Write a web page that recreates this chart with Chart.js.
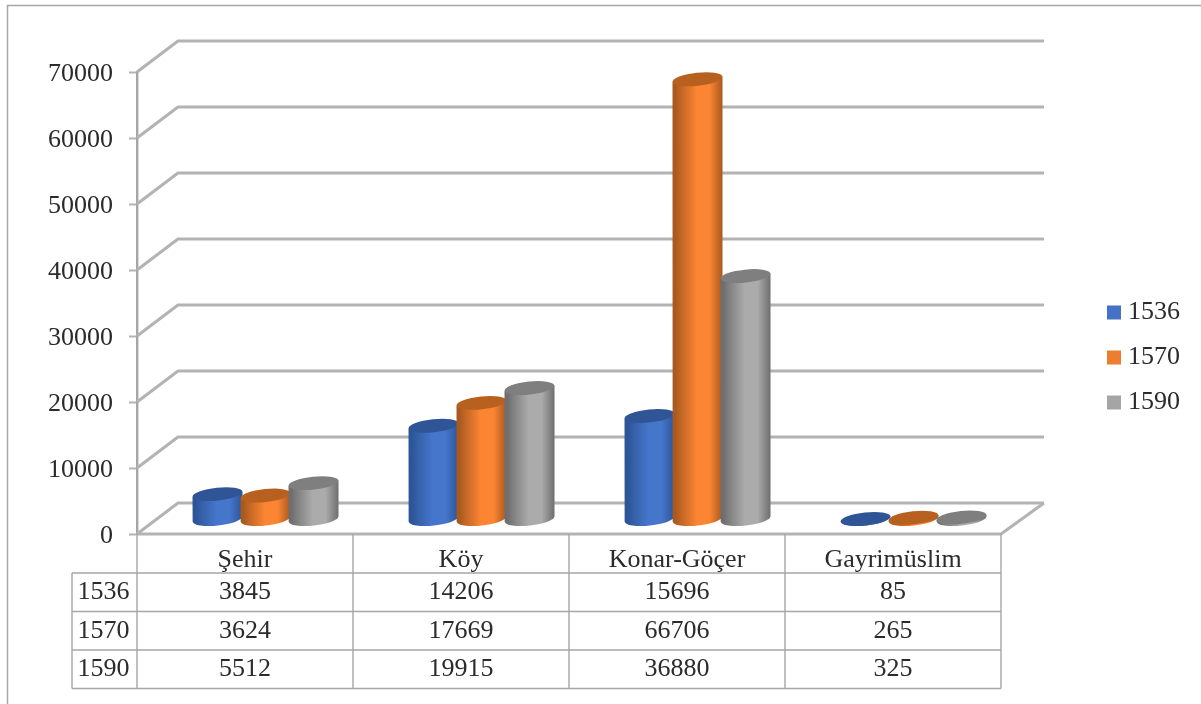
<!DOCTYPE html>
<html lang="tr">
<head>
<meta charset="utf-8">
<title>Nüfus</title>
<script src="https://cdn.jsdelivr.net/npm/chart.js@4/dist/chart.umd.js"></script>
<style>
html,body{margin:0;padding:0;background:#fff;overflow:hidden}
canvas{display:block;filter:blur(.7px)}
</style>
</head>
<body>
<canvas id="c" width="1201" height="704"></canvas>
<script>
const categories = ["Şehir", "Köy", "Konar-Göçer", "Gayrimüslim"];
const seriesNames = ["1536", "1570", "1590"];
const values1536 = [3845, 14206, 15696, 85];
const values1570 = [3624, 17669, 66706, 265];
const values1590 = [5512, 19915, 36880, 325];
const seriesValues = [values1536, values1570, values1590];
const seriesColors = ["#4472c4", "#ed7d31", "#a5a5a5"];
const bodyEdge = ["#2c5596", "#a9591f", "#6e6e6e"];
const bodyLight = ["#4676cc", "#fb8533", "#ababab"];
const topColors = ["#2f5597", "#b8601f", "#7f7f7f"];

const FONT = '"Liberation Serif"';
const TEXT = "#2b2b2b";
const LINE = "#b3b3b3";
const DEPTH_X = 41, DEPTH_Y = 31;     // wall depth
const BAR_DX = 20.5, BAR_DY = 14.5;   // bars stand mid-way on the floor
const ROW_LEFT = 72, ROW_H = 38.5, HEAD_H = 39;
const TILT = -6 * Math.PI / 180;

function ellipse(ctx, x, y, rx, ry, color) {
  ctx.fillStyle = color;
  ctx.beginPath();
  ctx.ellipse(x, y, rx, ry, TILT, 0, Math.PI * 2);
  ctx.fill();
}

const scene = {
  id: "scene",
  beforeDraw(chart) {
    const ctx = chart.ctx;
    ctx.save();
    ctx.fillStyle = "#fff";
    ctx.fillRect(0, 0, chart.width, chart.height);
    ctx.strokeStyle = "#a6a6a6";
    ctx.lineWidth = 1.5;
    ctx.beginPath();
    ctx.moveTo(7.5, chart.height);
    ctx.lineTo(7.5, 5.5);
    ctx.lineTo(chart.width, 5.5);
    ctx.stroke();
    ctx.restore();
    // value labels sit slightly below their tick in the reference
    const ys = chart.scales.y;
    if (!ys.$shifted) {
      ys.getLabelItems(chart.chartArea).forEach(it => { it.options.translation[1] += 2.5; });
      ys.$shifted = true;
    }
  },
  afterLayout(chart) {
    const l = chart.legend;
    const dx = 1094 - l.left;
    l.left += dx; l.right += dx;
    l.legendHitBoxes.forEach(b => { b.left += dx; });
    const dy = 357.5 - (l.top + l.bottom) / 2;
    l.top += dy; l.bottom += dy;
    l.legendHitBoxes.forEach(b => { b.top += dy; });
  },
  beforeDatasetsDraw(chart) {
    const ctx = chart.ctx, { y: ys } = chart.scales;
    const a = chart.chartArea;
    ctx.save();
    // walls
    ctx.strokeStyle = LINE;
    ctx.lineWidth = 3;
    ctx.lineJoin = "round";
    ys.ticks.forEach(t => {
      const py = ys.getPixelForValue(t.value);
      ctx.beginPath();
      ctx.moveTo(a.left, py);
      ctx.lineTo(a.left + DEPTH_X, py - DEPTH_Y);
      ctx.lineTo(a.right + DEPTH_X + 2, py - DEPTH_Y);
      ctx.stroke();
    });
    const y0 = ys.getPixelForValue(0);
    ctx.beginPath();
    ctx.moveTo(a.left, y0);
    ctx.lineTo(a.right, y0);
    ctx.lineTo(a.right + DEPTH_X + 2, y0 - DEPTH_Y);
    ctx.stroke();
    // cylinders, left to right so that each overlaps its left neighbour
    categories.forEach((_, c) => {
      seriesValues.forEach((_, s) => {
        const b = chart.getDatasetMeta(s).data[c];
        const cx = b.x + BAR_DX, rx = b.width / 2 + 1;
        const top = b.y - BAR_DY, base = b.base - BAR_DY;
        const ry = 6.5;
        const slope = rx * Math.tan(-TILT);
        const g = ctx.createLinearGradient(cx - rx, 0, cx + rx, 0);
        g.addColorStop(0, bodyEdge[s]);
        g.addColorStop(.05, bodyEdge[s]);
        g.addColorStop(.48, bodyLight[s]);
        g.addColorStop(.74, bodyLight[s]);
        g.addColorStop(1, bodyEdge[s]);
        ctx.fillStyle = g;
        ctx.beginPath();
        ctx.moveTo(cx - rx, top + slope);
        ctx.lineTo(cx + rx, top - slope);
        ctx.lineTo(cx + rx, base - slope);
        ctx.ellipse(cx, base, rx, ry, TILT, 0, Math.PI);
        ctx.closePath();
        ctx.fill();
        ellipse(ctx, cx, top, rx, ry, topColors[s]);
      });
    });
    ctx.restore();
    return false;
  },
  afterDraw(chart) {
    const ctx = chart.ctx, { x: xs, y: ys } = chart.scales;
    const a = chart.chartArea, y0 = ys.getPixelForValue(0);
    const step = (a.right - a.left) / categories.length;
    const rows = seriesNames.length;
    const tableTop = y0 + HEAD_H;
    const tableBottom = tableTop + rows * ROW_H;
    ctx.save();
    ctx.strokeStyle = "#a6a6a6";
    ctx.lineWidth = 1.4;
    ctx.beginPath();
    for (let i = 0; i <= categories.length; i++) {
      const px = a.left + i * step;
      ctx.moveTo(px, y0);
      ctx.lineTo(px, tableBottom);
    }
    ctx.moveTo(ROW_LEFT, tableTop);
    ctx.lineTo(ROW_LEFT, tableBottom);
    for (let r = 0; r <= rows; r++) {
      ctx.moveTo(ROW_LEFT, tableTop + r * ROW_H);
      ctx.lineTo(a.right, tableTop + r * ROW_H);
    }
    ctx.stroke();
    ctx.fillStyle = TEXT;
    ctx.font = "26px " + FONT;
    ctx.textAlign = "center";
    ctx.textBaseline = "middle";
    seriesNames.forEach((name, r) => {
      const cy = tableTop + (r + .5) * ROW_H;
      ctx.fillText(name, (ROW_LEFT + a.left) / 2 - 1, cy);
      seriesValues[r].forEach((v, c) => ctx.fillText(String(v), xs.getPixelForValue(c), cy));
    });
    ctx.restore();
  }
};

new Chart(document.getElementById("c"), {
  type: "bar",
  data: {
    labels: categories,
    datasets: seriesNames.map((name, i) => ({
      label: name,
      data: seriesValues[i],
      backgroundColor: seriesColors[i],
      borderColor: seriesColors[i]
    }))
  },
  plugins: [scene],
  options: {
    responsive: false,
    animation: false,
    devicePixelRatio: 1,
    layout: { padding: { top: 72, left: 0, right: 104, bottom: 0 } },
    datasets: { bar: { categoryPercentage: 144 / 216, barPercentage: 1 } },
    scales: {
      x: {
        afterFit(s) { s.height = 170; },
        grid: { display: false },
        border: { display: false },
        ticks: { color: TEXT, font: { family: FONT, size: 26 }, padding: 3, maxRotation: 0 }
      },
      y: {
        min: 0, max: 70000,
        afterFit(s) { s.width = 137; },
        grid: { drawOnChartArea: false, tickLength: 8, color: LINE, tickWidth: 2 },
        border: { color: "#a6a6a6", width: 2.4 },
        ticks: { stepSize: 10000, color: TEXT, font: { family: FONT, size: 26 }, padding: 16, callback: v => String(v) }
      }
    },
    plugins: {
      tooltip: { enabled: false },
      legend: {
        position: "right",
        labels: {
          boxWidth: 2, boxHeight: 2, padding: 19, color: TEXT,
          font: { family: FONT, size: 26 },
          generateLabels(chart) {
            return Chart.defaults.plugins.legend.labels.generateLabels(chart)
              .map(item => Object.assign(item, { lineWidth: 12 }));
          }
        }
      }
    }
  }
});
</script>
</body>
</html>
